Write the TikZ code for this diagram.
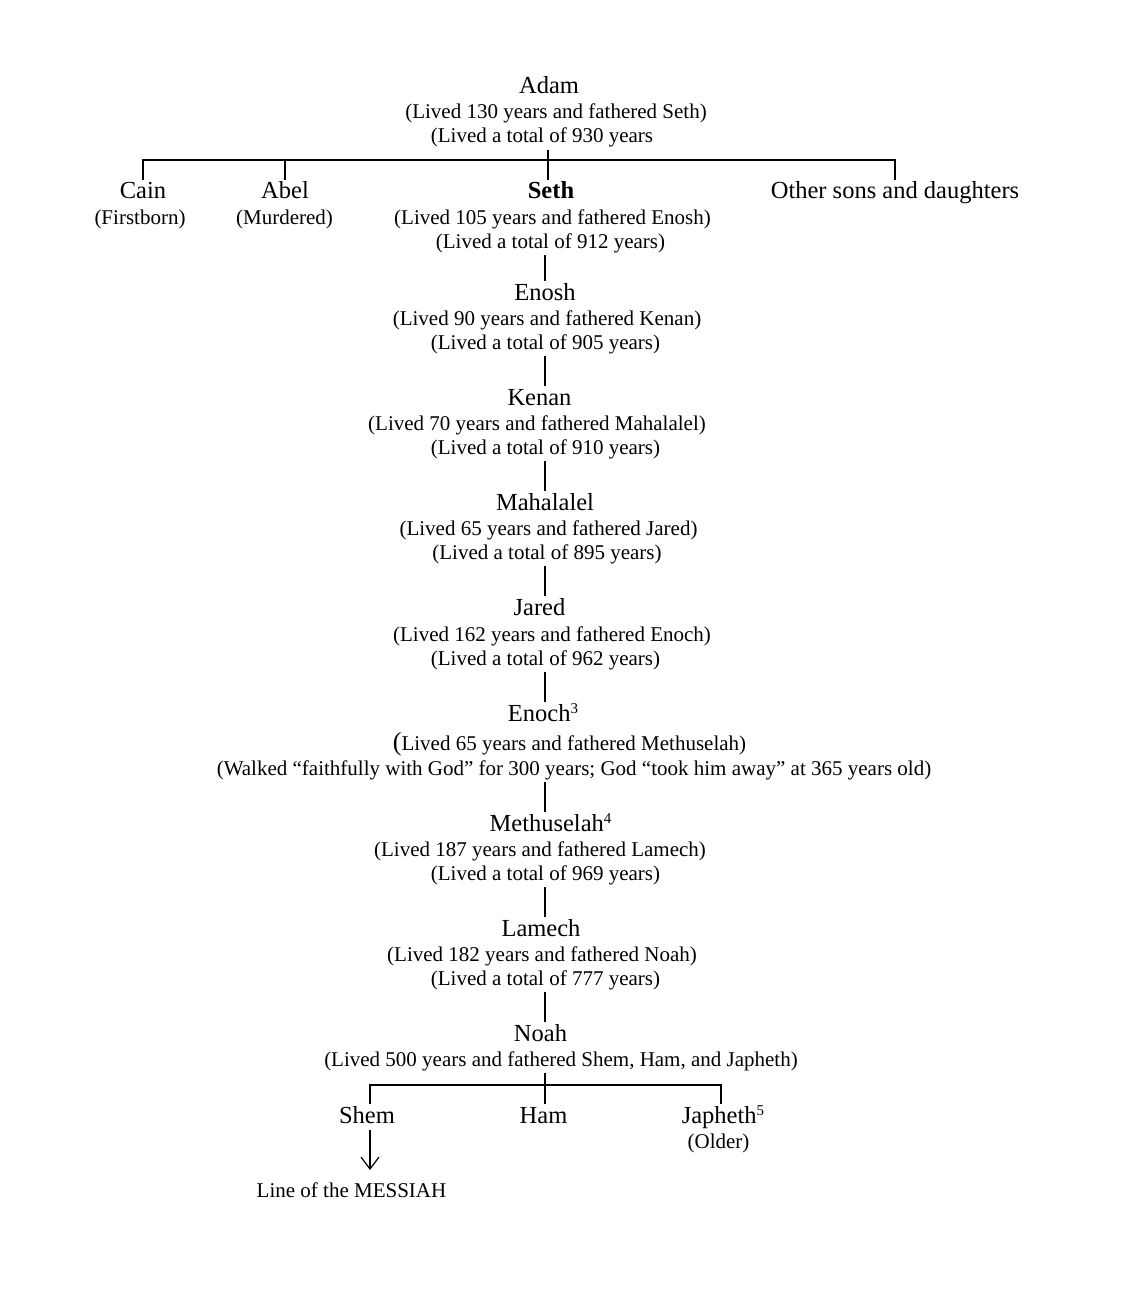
\documentclass[tikz,border=0pt]{standalone}
\usepackage{fontspec}
\setmainfont{Liberation Serif}
\usetikzlibrary{arrows.meta}
\newcommand{\supnum}[1]{\raisebox{8pt}{\fontsize{15}{15}\selectfont #1}}
\tikzset{
  nm/.style={font=\fontsize{24.5}{28}\selectfont, anchor=base, inner sep=0pt, text height=17pt, text depth=5pt, outer sep=2pt},
  sb/.style={font=\fontsize{21}{24}\selectfont, anchor=base, inner sep=0pt, text height=15pt, text depth=5pt, outer sep=2pt},
  ln/.style={line width=1.2pt},
}
\begin{document}
\begin{tikzpicture}[x=1pt,y=1pt]
\useasboundingbox (0,0) rectangle (1124,-1308);
\coordinate (axis) at (545,0);
% Adam
\node[nm] (adam) at (549,-94) {Adam};
\node[sb] (adam1) at (556,-119) {(Lived 130 years and fathered Seth)};
\node[sb] (adam2) at (542,-143) {(Lived a total of 930 years};
% children of Adam
\node[nm] (cain) at (143,-199) {Cain};
\node[sb] (cain1) at (140,-224) {(Firstborn)};
\node[nm] (abel) at (285,-199) {Abel};
\node[sb] (abel1) at (284.5,-224) {(Murdered)};
\node[nm] (seth) at (551,-199) {\textbf{Seth}};
\node[sb] (seth1) at (552.5,-224) {(Lived 105 years and fathered Enosh)};
\node[sb] (seth2) at (550.5,-248) {(Lived a total of 912 years)};
\node[nm] (other) at (895,-199) {Other sons and daughters};
\coordinate (bar) at (548,-160);
% Enosh
\node[nm] (enosh) at (545,-300) {Enosh};
\node[sb] (enosh1) at (547,-325) {(Lived 90 years and fathered Kenan)};
\node[sb] (enosh2) at (545.5,-349) {(Lived a total of 905 years)};
% Kenan
\node[nm] (kenan) at (539.5,-405) {Kenan};
\node[sb] (kenan1) at (537,-430) {(Lived 70 years and fathered Mahalalel)};
\node[sb] (kenan2) at (545.5,-454) {(Lived a total of 910 years)};
% Mahalalel
\node[nm] (mahalalel) at (545,-510) {Mahalalel};
\node[sb] (mahalalel1) at (548.5,-535) {(Lived 65 years and fathered Jared)};
\node[sb] (mahalalel2) at (547,-559) {(Lived a total of 895 years)};
% Jared
\node[nm] (jared) at (539.5,-615) {Jared};
\node[sb] (jared1) at (552,-641) {(Lived 162 years and fathered Enoch)};
\node[sb] (jared2) at (545.5,-665) {(Lived a total of 962 years)};
% Enoch
\node[nm] (enoch) at (543,-721) {Enoch\supnum{3}};
\node[sb] (enoch1) at (569.5,-750) {{\fontsize{26}{26}\selectfont(}Lived 65 years and fathered Methuselah)};
\node[sb] (enoch2) at (574,-775) {(Walked “faithfully with God” for 300 years; God “took him away” at 365 years old)};
% Methuselah
\node[nm] (methuselah) at (550.5,-831) {Methuselah\supnum{4}};
\node[sb] (methuselah1) at (540,-856) {(Lived 187 years and fathered Lamech)};
\node[sb] (methuselah2) at (545.5,-880) {(Lived a total of 969 years)};
% Lamech
\node[nm] (lamech) at (541,-936) {Lamech};
\node[sb] (lamech1) at (542,-961) {(Lived 182 years and fathered Noah)};
\node[sb] (lamech2) at (545.5,-985) {(Lived a total of 777 years)};
% Noah
\node[nm] (noah) at (540.5,-1041) {Noah};
\node[sb] (noah1) at (561,-1066) {(Lived 500 years and fathered Shem, Ham, and Japheth)};
% sons of Noah
\node[nm] (shem) at (367,-1123) {Shem};
\node[nm] (ham) at (543.5,-1123) {Ham};
\node[nm] (japheth) at (723,-1123) {Japheth\supnum{5}};
\node[sb] (japheth1) at (718.5,-1148) {(Older)};
\node[sb] (messiah) at (351.5,-1197) {Line of the MESSIAH};
\coordinate (nbar) at (545,-1085);
\coordinate (shemx) at (370,0);
\coordinate (japhx) at (721,0);
% connectors
\draw[ln] (adam2.south -| bar) -- (seth.north -| bar);
\draw[ln] (cain.north) |- (bar) -| (other.north);
\draw[ln] (abel.north) -- (abel.north |- bar);
\draw[ln] (seth2.south -| axis) -- (enosh.north -| axis);
\draw[ln] (enosh2.south -| axis) -- (kenan.north -| axis);
\draw[ln] (kenan2.south -| axis) -- (mahalalel.north -| axis);
\draw[ln] (mahalalel2.south -| axis) -- (jared.north -| axis);
\draw[ln] (jared2.south -| axis) -- (enoch.north -| axis);
\draw[ln] (enoch2.south -| axis) -- (methuselah.north -| axis);
\draw[ln] (methuselah2.south -| axis) -- (lamech.north -| axis);
\draw[ln] (lamech2.south -| axis) -- (noah.north -| axis);
\draw[ln] (noah1.south -| axis) -- (ham.north -| axis);
\draw[ln] (shem.north -| shemx) |- (nbar) -| (japheth.north -| japhx);
\draw[ln,-{Straight Barb[length=12pt,width=18pt,line width=1.2pt]}] (shem.south -| shemx) -- ([yshift=10pt]messiah.north -| shemx);
\end{tikzpicture}
\end{document}
